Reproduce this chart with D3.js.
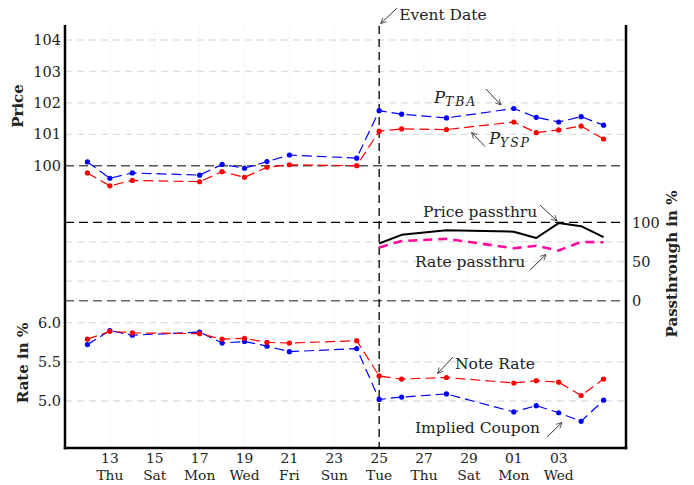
<!DOCTYPE html>
<html>
<head>
<meta charset="utf-8">
<script src="https://cdn.jsdelivr.net/npm/d3@7"></script>
<style>
  html, body { margin: 0; padding: 0; background: #fff; }
  svg { display: block; }
  text { font-family: "DejaVu Serif", "Liberation Serif", serif; fill: #222; }
</style>
</head>
<body>
<svg id="chart" width="694" height="485"></svg>
<script>
// Trading days around the event (Nov 2008 – Dec 2008)
const dates = ["2008-11-12","2008-11-13","2008-11-14","2008-11-17","2008-11-18","2008-11-19",
  "2008-11-20","2008-11-21","2008-11-24","2008-11-25","2008-11-26","2008-11-28",
  "2008-12-01","2008-12-02","2008-12-03","2008-12-04","2008-12-05"];

// Prices
const priceTBA = [100.12, 99.60, 99.77, 99.70, 100.04, 99.92, 100.13, 100.34, 100.24,
  101.75, 101.64, 101.52, 101.82, 101.54, 101.39, 101.56, 101.29];
const priceYSP = [99.77, 99.36, 99.53, 99.49, 99.81, 99.63, 99.95, 100.03, 100.00,
  101.10, 101.17, 101.15, 101.39, 101.05, 101.14, 101.26, 100.85];

// Passthrough (from the event date on)
const passDates = ["2008-11-25","2008-11-26","2008-11-28","2008-12-01","2008-12-02",
  "2008-12-03","2008-12-04","2008-12-05"];
const pricePass = [73, 84, 90, 88, 80, 99, 95, 81];
const ratePass  = [68, 76, 79, 67, 70, 64, 75, 74.5];

// Rates
const noteRate = [5.79, 5.89, 5.87, 5.86, 5.79, 5.80, 5.75, 5.74, 5.77,
  5.32, 5.28, 5.30, 5.23, 5.26, 5.24, 5.07, 5.28];
const impliedCoupon = [5.72, 5.90, 5.84, 5.88, 5.74, 5.76, 5.70, 5.63, 5.67,
  5.02, 5.05, 5.09, 4.86, 4.94, 4.85, 4.74, 5.01];

// Axis ticks
const tickDates = ["2008-11-13","2008-11-15","2008-11-17","2008-11-19","2008-11-21","2008-11-23",
  "2008-11-25","2008-11-27","2008-11-29","2008-12-01","2008-12-03"];
const priceTicks = [100, 101, 102, 103, 104];
const passTicks = [0, 50, 100];
const passGrid = [25, 50, 75];
const rateTicks = [5.0, 5.5, 6.0];
const eventDate = "2008-11-25";

const parse = d3.utcParse("%Y-%m-%d");
const svg = d3.select("#chart");

const plotL = 65, plotR = 626, plotT = 25, plotB = 448;

const x = d3.scaleUtc()
  .domain([parse("2008-11-11"), parse("2008-12-06")])
  .range([plotL, plotR]);
const yPrice = d3.scaleLinear().domain([100, 104]).range([165.7, 40]);
const yPass = d3.scaleLinear().domain([0, 100]).range([300.7, 222.3]);
const yRate = d3.scaleLinear().domain([5.0, 6.0]).range([401, 322.7]);

// vertical dotted grid
svg.append("g").selectAll("line").data(tickDates).join("line")
  .attr("x1", d => x(parse(d))).attr("x2", d => x(parse(d)))
  .attr("y1", plotT).attr("y2", plotB)
  .attr("stroke", "#e4e4e4").attr("stroke-width", 1).attr("stroke-dasharray", "1,3");

// light horizontal grid
function hgrid(vals, scale) {
  svg.append("g").selectAll("line").data(vals).join("line")
    .attr("x1", plotL).attr("x2", plotR)
    .attr("y1", d => scale(d)).attr("y2", d => scale(d))
    .attr("stroke", "#dedede").attr("stroke-width", 1.3).attr("stroke-dasharray", "7,5");
}
hgrid(priceTicks.filter(v => v !== 100), yPrice);
hgrid(passGrid, yPass);
hgrid(rateTicks, yRate);

// reference lines
function refLine(y, color, width) {
  svg.append("line").attr("x1", plotL).attr("x2", plotR).attr("y1", y).attr("y2", y)
    .attr("stroke", color).attr("stroke-width", width).attr("stroke-dasharray", "9,5");
}
refLine(yPrice(100), "#555", 1.5);
refLine(yPass(100), "#000", 1.2);
refLine(yPass(0), "#666", 1.5);

// event line
svg.append("line")
  .attr("x1", x(parse(eventDate))).attr("x2", x(parse(eventDate)))
  .attr("y1", plotT + 1).attr("y2", plotB)
  .attr("stroke", "#000").attr("stroke-width", 1.3).attr("stroke-dasharray", "8,5");

// series
function series(dts, vals, scale, color, opts) {
  const pts = dts.map((d, i) => [x(parse(d)), scale(vals[i])]);
  const line = d3.line();
  svg.append("path").attr("d", line(pts)).attr("fill", "none")
    .attr("stroke", color).attr("stroke-width", opts.width || 1.2)
    .attr("stroke-dasharray", opts.dash || null)
    .attr("stroke-linejoin", "round");
  if (opts.dots) {
    svg.append("g").selectAll("circle").data(pts).join("circle")
      .attr("cx", p => p[0]).attr("cy", p => p[1]).attr("r", 2.6).attr("fill", color);
  }
}
series(dates, priceYSP, yPrice, "#ff0000", {dash: "10,5", dots: true});
series(dates, priceTBA, yPrice, "#0000ff", {dash: "10,5", dots: true});
series(passDates, ratePass, yPass, "#ff0a9a", {dash: "9,6", width: 2.6});
series(passDates, pricePass, yPass, "#000", {width: 2});
series(dates, impliedCoupon, yRate, "#0000ff", {dash: "10,5", dots: true});
series(dates, noteRate, yRate, "#ff0000", {dash: "10,5", dots: true});

// axis frame
const frame = svg.append("g").attr("stroke", "#000").attr("stroke-width", 2.5);
frame.append("line").attr("x1", plotL).attr("x2", plotL).attr("y1", plotT).attr("y2", plotB + 1.2);
frame.append("line").attr("x1", plotR).attr("x2", plotR).attr("y1", plotT).attr("y2", plotB + 1.2);
frame.append("line").attr("x1", plotL - 1.2).attr("x2", plotR + 1.2).attr("y1", plotB).attr("y2", plotB);

// tick labels
const fs = 14.5;
svg.append("g").selectAll("text").data(priceTicks).join("text")
  .attr("x", plotL - 4).attr("y", d => yPrice(d)).attr("dy", "0.36em")
  .attr("text-anchor", "end").attr("font-size", fs).text(d => d3.format("d")(d));
svg.append("g").selectAll("text").data(rateTicks).join("text")
  .attr("x", plotL - 4).attr("y", d => yRate(d)).attr("dy", "0.36em")
  .attr("text-anchor", "end").attr("font-size", fs).text(d => d3.format(".1f")(d));
svg.append("g").selectAll("text").data(passTicks).join("text")
  .attr("x", plotR + 6).attr("y", d => yPass(d)).attr("dy", "0.36em")
  .attr("text-anchor", "start").attr("font-size", fs).text(d => d);

// two-line date labels: day of month over weekday
const dayFmt = d3.utcFormat("%d"), wdFmt = d3.utcFormat("%a");
const xt = svg.append("g").selectAll("g").data(tickDates).join("g")
  .attr("transform", d => `translate(${x(parse(d))},0)`);
xt.append("text").attr("y", 463).attr("text-anchor", "middle").attr("font-size", 13.8)
  .text(d => dayFmt(parse(d)));
xt.append("text").attr("y", 480).attr("text-anchor", "middle").attr("font-size", 13.8)
  .text(d => wdFmt(parse(d)));

// axis titles
function vtitle(txt, bx, cy) {
  svg.append("text").attr("transform", `translate(${bx},${cy}) rotate(-90)`)
    .attr("text-anchor", "middle").attr("font-size", 15).attr("font-weight", "bold")
    .text(txt);
}
vtitle("Price", 22.5, 106);
vtitle("Rate in %", 28, 363);
vtitle("Passthrough in %", 677, 264);

// annotations
svg.append("defs").append("marker").attr("id", "arr")
  .attr("viewBox", "0 0 10 10").attr("refX", 9).attr("refY", 5)
  .attr("markerWidth", 7).attr("markerHeight", 7).attr("orient", "auto")
  .append("path").attr("d", "M1,1 L9,5 L1,9").attr("fill", "none")
  .attr("stroke", "#333").attr("stroke-width", 1.1);

function arrow(x1, y1, x2, y2) {
  svg.append("line").attr("x1", x1).attr("y1", y1).attr("x2", x2).attr("y2", y2)
    .attr("stroke", "#333").attr("stroke-width", 1).attr("marker-end", "url(#arr)");
}
function label(txt, lx, ly) {
  svg.append("text").attr("x", lx).attr("y", ly).attr("font-size", 15.5).text(txt);
}
const ex = x(parse(eventDate));
label("Event Date", ex + 20, 20);
arrow(ex + 18, 8, ex + 1.5, 23.5);

function pSub(sub, lx, ly) {
  const t = svg.append("text").attr("x", lx).attr("y", ly).attr("font-style", "italic");
  t.append("tspan").attr("font-size", 16.5).text("P");
  t.append("tspan").attr("font-size", 12.5).attr("dy", 3).attr("letter-spacing", 1.8).text(sub);
}
pSub("TBA", 434, 103);
arrow(486, 89, 501, 105);
pSub("YSP", 489, 144);
arrow(485, 146.5, 471.5, 132.5);

label("Price passthru", 423, 217);
arrow(540, 205, 557, 221);
label("Rate passthru", 415, 267);
arrow(530, 270, 546, 254.5);
label("Note Rate", 455, 369);
arrow(453, 357, 437.5, 373.5);
label("Implied Coupon", 415, 433);
arrow(547, 437, 562, 422.5);
</script>
</body>
</html>
